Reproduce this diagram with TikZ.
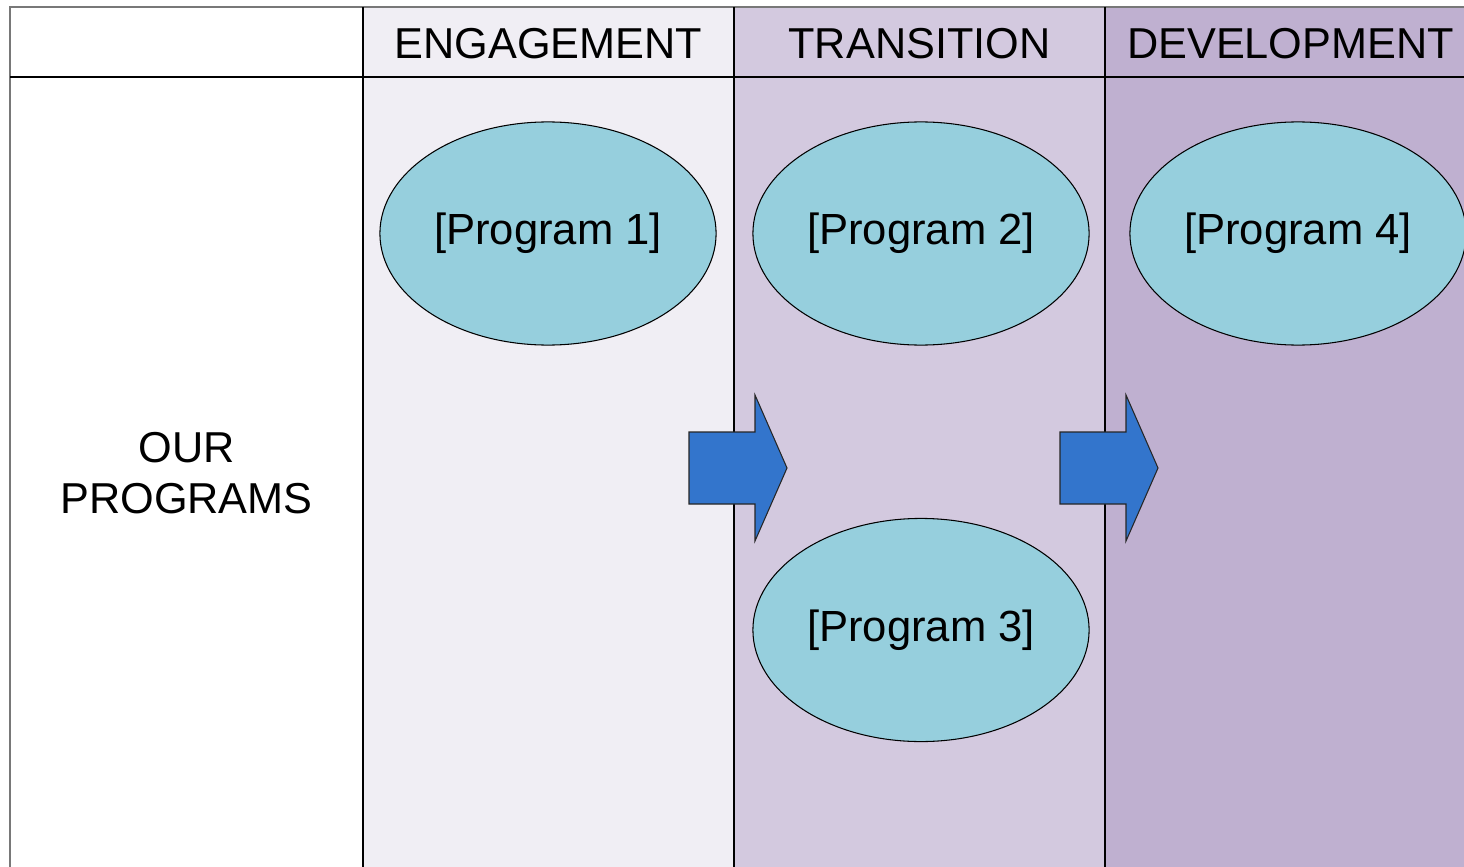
\documentclass[tikz,border=0pt]{standalone}
\usepackage{fontspec}
\setmainfont{Liberation Sans}
\usetikzlibrary{shapes.geometric}
\definecolor{laneeng}{RGB}{240,238,244}
\definecolor{lanetra}{RGB}{211,201,223}
\definecolor{lanedev}{RGB}{191,176,208}
\definecolor{progfill}{RGB}{150,207,221}
\definecolor{flowblue}{RGB}{51,117,204}
\definecolor{framegray}{RGB}{120,120,120}
\tikzstyle{prog} = [ellipse, draw, line width=0.3pt, fill=progfill, minimum width=3.36cm, minimum height=2.23cm, inner sep=0pt, font=\fontsize{12.4}{14.5}\selectfont]
\tikzstyle{head} = [font=\fontsize{12.3}{14.5}\selectfont]
\tikzstyle{flow} = [draw=black!85, line width=0.3pt, fill=flowblue]

\begin{document}
\begin{tikzpicture}[x=0.01cm, y=-0.01cm]
	\useasboundingbox (0,0) rectangle (1464,867);
	% lanes
	\fill[white] (10,7) rectangle (363,880);
	\fill[laneeng] (363,7) rectangle (734,880);
	\fill[lanetra] (734,7) rectangle (1105,880);
	\fill[lanedev] (1105,7) rectangle (1476,880);
	% grid
	\draw[framegray, line width=0.6pt] (10,880) -- (10,7) -- (1476,7);
	\draw[line width=0.3pt] (10,77) -- (1476,77);
	\foreach \x in {363,734,1105}
		\draw[line width=0.3pt] (\x,7) -- (\x,880);
	% headings
	\node[head] (eng) at (548.5,44) {ENGAGEMENT};
	\node[head] (tra) at (919.5,44) {TRANSITION};
	\node[head] (dev) at (1290.5,44) {DEVELOPMENT};
	\node[head, align=center] (ours) at (186.5,473) {OUR\\PROGRAMS};
	% programs
	\node[prog] (p1) at (548,233.5) {\raisebox{-1.3pt}{[Program 1]}};
	\node[prog] (p2) at (921,233.5) {\raisebox{-1.3pt}{[Program 2]}};
	\node[prog] (p3) at (921,630) {\raisebox{-1.3pt}{[Program 3]}};
	\node[prog] (p4) at (1298,233.5) {\raisebox{-1.3pt}{[Program 4]}};
	% block arrows between lanes
	\foreach \x in {689,1060}
		\draw[flow] (\x,432) -- (\x+66,432) -- (\x+66,395) -- (\x+98,468)
			-- (\x+66,541) -- (\x+66,504) -- (\x,504) -- cycle;
\end{tikzpicture}
\end{document}
